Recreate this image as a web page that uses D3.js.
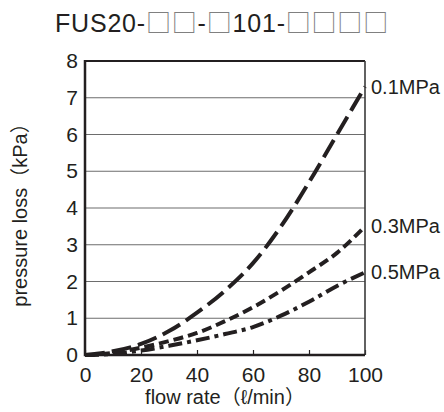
<!DOCTYPE html>
<html>
<head>
<meta charset="utf-8">
<script src="https://cdn.jsdelivr.net/npm/d3@7"></script>
<style>
  body { margin: 0; background: #fff; }
  #chart { width: 444px; height: 412px; }
  text { font-family: "Liberation Sans", Arial, "Noto Sans CJK JP", sans-serif; fill: #231f20; }
</style>
</head>
<body>
<div id="chart"></div>
<script>
/* DATA */
const flow = [0, 10, 20, 30, 40, 50, 60, 70, 80, 90, 100];
const loss01 = [0, 0.1, 0.3, 0.65, 1.15, 1.75, 2.5, 3.5, 4.7, 6.0, 7.3];
const loss03 = [0, 0.06, 0.2, 0.38, 0.6, 0.92, 1.3, 1.75, 2.25, 2.78, 3.5];
const loss05 = [0, 0.03, 0.12, 0.25, 0.4, 0.57, 0.76, 1.07, 1.45, 1.88, 2.25];
const seriesNames = ["0.1MPa", "0.3MPa", "0.5MPa"];
const xTicks = [0, 20, 40, 60, 80, 100];
const yTicks = [0, 1, 2, 3, 4, 5, 6, 7, 8];

const width = 444, height = 412;
const margin = {top: 61, left: 85, right: 79, bottom: 57};

const svg = d3.select("#chart").append("svg")
    .attr("width", width)
    .attr("height", height);

/* SCALES */
const xScale = d3.scaleLinear().domain([0, 100]).range([margin.left, width - margin.right]);
const yScale = d3.scaleLinear().domain([0, 8]).range([height - margin.bottom, margin.top]);

/* GRID */
svg.append("g")
    .selectAll("line")
    .data(yTicks.slice(1, -1))
    .enter().append("line")
    .attr("x1", xScale(0)).attr("x2", xScale(100))
    .attr("y1", d => yScale(d)).attr("y2", d => yScale(d))
    .attr("stroke", "#6d6d6d")
    .attr("stroke-width", 1.2);

/* AXES */
const xAxis = svg.append("g")
    .attr("transform", `translate(0,${yScale(0)})`)
    .call(d3.axisBottom(xScale).tickValues(xTicks).tickSizeInner(-5).tickSizeOuter(0));
xAxis.select(".domain").remove();
xAxis.selectAll("line").attr("stroke", "#231f20").attr("stroke-width", 1.2);
xAxis.selectAll("text").attr("font-size", 21).attr("dy", "0.71em").attr("y", 12);

const yAxis = svg.append("g")
    .attr("transform", `translate(${xScale(0)},0)`)
    .call(d3.axisLeft(yScale).tickValues(yTicks).tickSize(0).tickPadding(7));
yAxis.select(".domain").remove();
yAxis.selectAll("text").attr("font-size", 21);

/* FRAME */
svg.append("line").attr("x1", xScale(0)).attr("x2", xScale(100))
    .attr("y1", yScale(8)).attr("y2", yScale(8))
    .attr("stroke", "#231f20").attr("stroke-width", 2);
svg.append("line").attr("x1", xScale(100)).attr("x2", xScale(100))
    .attr("y1", yScale(8)).attr("y2", yScale(0))
    .attr("stroke", "#3a3a3a").attr("stroke-width", 1.6);
svg.append("line").attr("x1", xScale(0)).attr("x2", xScale(100))
    .attr("y1", yScale(0)).attr("y2", yScale(0))
    .attr("stroke", "#231f20").attr("stroke-width", 2.5);
svg.append("line").attr("x1", xScale(0)).attr("x2", xScale(0))
    .attr("y1", yScale(8) - 1).attr("y2", yScale(0) + 1.2)
    .attr("stroke", "#231f20").attr("stroke-width", 2.5);

/* CURVES */
const series = [
    {name: seriesNames[0], values: loss01, dash: "20,7"},
    {name: seriesNames[1], values: loss03, dash: "10,5"},
    {name: seriesNames[2], values: loss05, dash: "14,5,4,5"}
];

const line = d3.line()
    .x((d, i) => xScale(flow[i]))
    .y(d => yScale(d))
    .curve(d3.curveMonotoneX);

svg.append("g")
    .selectAll("path")
    .data(series)
    .enter().append("path")
    .attr("d", d => line(d.values))
    .attr("fill", "none")
    .attr("stroke", "#231f20")
    .attr("stroke-width", 4)
    .attr("stroke-dasharray", d => d.dash);

/* SERIES LABELS */
svg.append("g")
    .selectAll("text")
    .data(series)
    .enter().append("text")
    .attr("x", xScale(100) + 6)
    .attr("y", d => yScale(d.values[d.values.length - 1]))
    .attr("dy", "0.35em")
    .attr("font-size", 20)
    .text(d => d.name);

/* AXIS LABELS */
svg.append("text")
    .attr("x", (xScale(0) + xScale(100)) / 2)
    .attr("y", 404)
    .attr("text-anchor", "middle")
    .attr("font-size", 20)
    .text("flow rate（ℓ/min）");

svg.append("text")
    .attr("transform", "rotate(-90)")
    .attr("x", -210)
    .attr("y", 27)
    .attr("text-anchor", "middle")
    .attr("font-size", 20)
    .text("pressure loss（kPa）");

/* TITLE */
const title = svg.append("text")
    .attr("x", 222)
    .attr("y", 32)
    .attr("text-anchor", "middle")
    .attr("font-size", 25)
    .attr("letter-spacing", 0.8);
const box = "□";
[["FUS20-", false], [box + box, true], ["-", false], [box, true], ["101-", false], [box + box + box + box, true]]
    .forEach(function(p) {
        const t = title.append("tspan").text(p[0]);
        if (p[1]) t.style("fill", "#808080").style("font-family", "'Noto Sans CJK JP'");
    });
</script>
</body>
</html>
